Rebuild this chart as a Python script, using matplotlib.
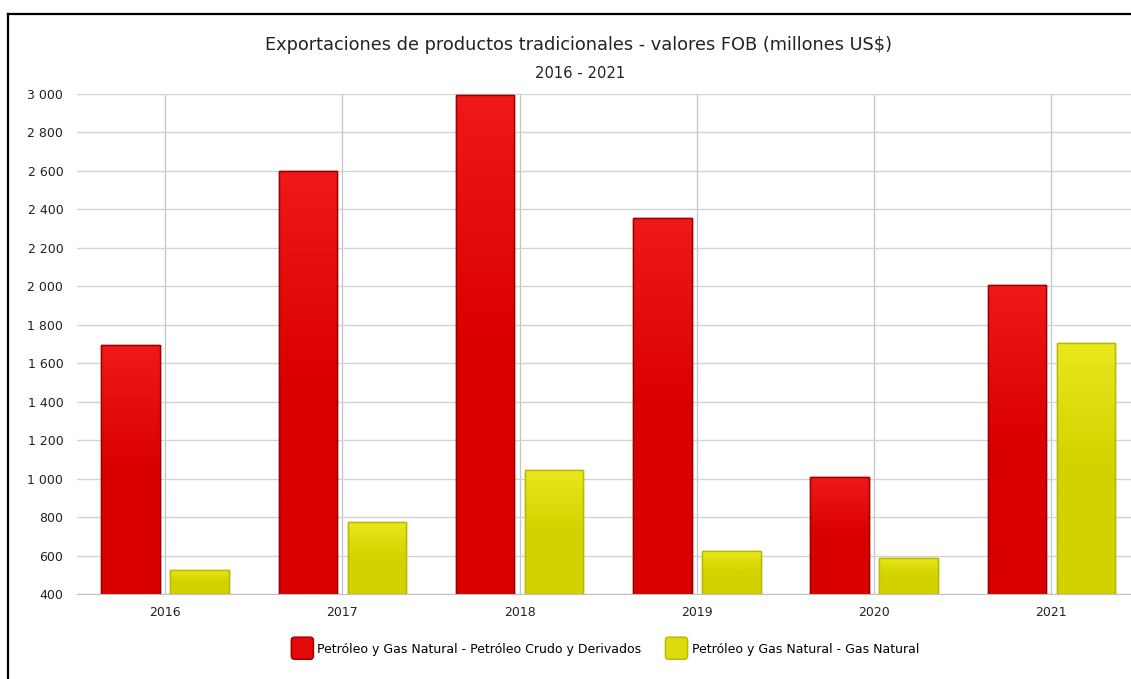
import numpy as np
import matplotlib
matplotlib.use("Agg")
import matplotlib.pyplot as plt
import matplotlib.patches as mpatches
from matplotlib.colors import LinearSegmentedColormap
from matplotlib.legend_handler import HandlerPatch
from matplotlib.lines import Line2D
from matplotlib.ticker import FuncFormatter

plt.rcParams["font.family"] = ["DejaVu Sans"]

# ── données (millones US$) ──
YEARS = ["2016", "2017", "2018", "2019", "2020", "2021"]
CRUDO = [1693, 2598, 2995, 2353, 1008, 2005]
GAS = [525, 775, 1043, 625, 589, 1703]

LABEL_CRUDO = "Petróleo y Gas Natural - Petróleo Crudo y Derivados"
LABEL_GAS = "Petróleo y Gas Natural - Gas Natural"

TITLE = "Exportaciones de productos tradicionales - valores FOB (millones US$)"
SUBTITLE = "2016 - 2021"

# couleurs : haut clair -> bas foncé
RED_TOP, RED_BOT, RED_EDGE = "#F01818", "#DA0000", "#9A0000"
YEL_TOP, YEL_BOT, YEL_EDGE = "#E8E81C", "#D2D200", "#B8B800"

W, H = 1131, 679
fig = plt.figure(figsize=(W / 100, H / 100), dpi=100)
fig.patch.set_facecolor("white")

ax_left, ax_right = 76.5 / W, 1140 / W
ax_bottom, ax_top = 1 - 594 / H, 1 - 94 / H
ax = fig.add_axes([ax_left, ax_bottom, ax_right - ax_left, ax_top - ax_bottom])

x = np.arange(len(YEARS))
width = 0.33
off = 0.195
YMIN, YMAX = 400, 3000


def gradient_bars(bars, top, bot):
    cmap = LinearSegmentedColormap.from_list("g", [bot, bot, top])
    grad = np.linspace(0, 1, 256).reshape(-1, 1)
    for b in bars:
        x0 = b.get_x()
        x1, y1 = x0 + b.get_width(), b.get_y() + b.get_height()
        im = ax.imshow(grad, cmap=cmap, origin="lower", aspect="auto",
                       extent=(x0, x1, YMIN, y1), zorder=2.5,
                       interpolation="bilinear")
        im.set_clip_path(b)


bars_c = ax.bar(x - off, np.array(CRUDO) - YMIN, width, bottom=YMIN,
                color=RED_BOT, edgecolor=RED_EDGE, linewidth=1.0, zorder=2)
bars_g = ax.bar(x + off, np.array(GAS) - YMIN, width, bottom=YMIN,
                color=YEL_BOT, edgecolor=YEL_EDGE, linewidth=1.0, zorder=2)
gradient_bars(bars_c, RED_TOP, RED_BOT)
gradient_bars(bars_g, YEL_TOP, YEL_BOT)
# contours par dessus le dégradé
for b, ec in [(bb, RED_EDGE) for bb in bars_c] + [(bb, YEL_EDGE) for bb in bars_g]:
    ax.add_patch(mpatches.Rectangle((b.get_x(), b.get_y()), b.get_width(),
                                    b.get_height(), fill=False, edgecolor=ec,
                                    linewidth=1.0, zorder=3))

ax.set_xlim(-0.5, len(YEARS) - 0.5)
ax.set_ylim(YMIN, YMAX)
ax.set_yticks(np.arange(400, 3001, 200))
ax.yaxis.set_major_formatter(FuncFormatter(lambda v, p: f"{int(v):,}".replace(",", " ")))
ax.set_xticks(x)
ax.set_xticklabels(YEARS)
ax.tick_params(axis="both", length=0, labelsize=9, colors="#222222")
ax.tick_params(axis="y", pad=9.5)
ax.tick_params(axis="x", pad=9)

ax.grid(axis="y", color="#D3D3D3", linewidth=1.0, zorder=0)
ax.grid(axis="x", color="#C4C4C4", linewidth=0.9, zorder=0)
ax.set_axisbelow(True)
for s in ["top", "right", "left"]:
    ax.spines[s].set_visible(False)
ax.spines["bottom"].set_color("#C0C0C0")

fig.text(579 / W, 1 - 45 / H, TITLE, ha="center", va="center",
         fontsize=12.75, color="#222222")
fig.text(580 / W, 1 - 73 / H, SUBTITLE, ha="center", va="center",
         fontsize=10.6, color="#222222")


class HandlerRound(HandlerPatch):
    def create_artists(self, legend, orig_handle, xdescent, ydescent,
                       width, height, fontsize, trans):
        s = 16
        p = mpatches.FancyBboxPatch((-xdescent + (width - s) / 2, -ydescent + (height - s) / 2),
                                    s, s, boxstyle="round,pad=0,rounding_size=2.5",
                                    facecolor=orig_handle.get_facecolor(),
                                    edgecolor=orig_handle.get_edgecolor(),
                                    linewidth=1.0, transform=trans)
        return [p]


h1 = mpatches.Patch(facecolor="#E40808", edgecolor=RED_EDGE, label=LABEL_CRUDO)
h2 = mpatches.Patch(facecolor="#DCDC0C", edgecolor=YEL_EDGE, label=LABEL_GAS)
fig.legend(handles=[h1, h2], loc="center", bbox_to_anchor=(605 / W, 1 - 649 / H),
           ncol=2, frameon=False, fontsize=9.0, handlelength=1.8, handleheight=1.0,
           handletextpad=0.3, columnspacing=1.9,
           handler_map={mpatches.Patch: HandlerRound()})

# cadre noir (capture d'écran) en haut et à gauche
fig.add_artist(Line2D([7.5 / W, 7.5 / W], [0, 1 - 13.5 / H], color="black",
                      linewidth=1.6, transform=fig.transFigure))
fig.add_artist(Line2D([7.5 / W, 1], [1 - 13.5 / H, 1 - 13.5 / H], color="black",
                      linewidth=1.6, transform=fig.transFigure))

fig.savefig("out.png", dpi=100)
